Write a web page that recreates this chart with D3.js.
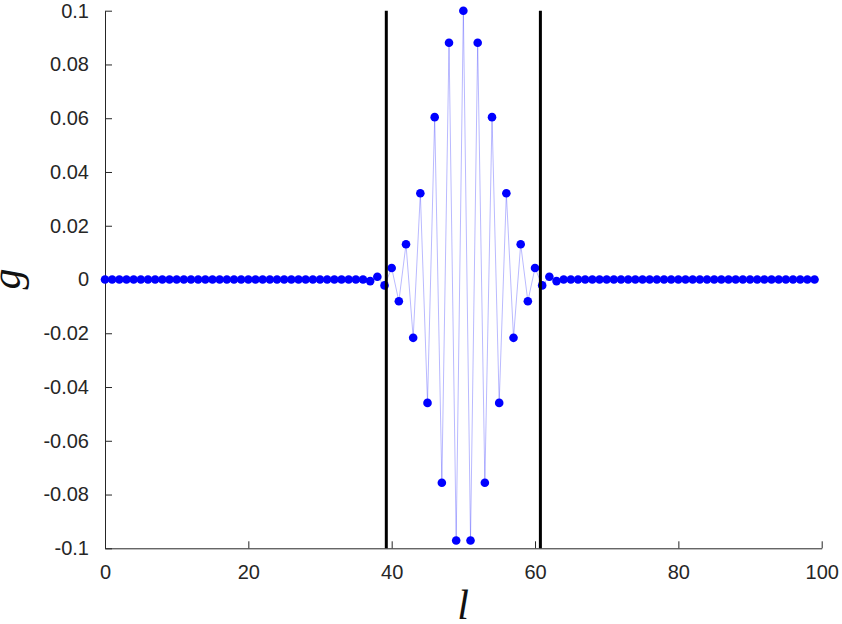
<!DOCTYPE html>
<html lang="en">
<head>
    <meta charset="utf-8">
    <script src="https://d3js.org/d3.v7.min.js"></script>
    <style>
        body { margin: 0; background: #fff; }
        .axis path, .axis line { stroke: #262626; }
        .lab { font-family: "Liberation Serif", "DejaVu Serif", serif; font-style: italic; font-size: 42px; fill: #111; }
    </style>
</head>
<body>
    <svg></svg>
    <script>
        // site index l = 0..99, value g
        const sites = d3.range(0, 100)
        const gValues = [
            0, 0, 0, 0, 0, 0, 0, 0, 0, 0,
            0, 0, 0, 0, 0, 0, 0, 0, 0, 0,
            0, 0, 0, 0, 0, 0, 0, 0, 0, 0,
            0, 0, 0, 0, 0, 0, 0, -0.0006, 0.001, -0.0022,
            0.0043, -0.0081, 0.0131, -0.0217, 0.0321, -0.0459, 0.0604, -0.0756, 0.0881, -0.0971,
            0.1, -0.0971, 0.0881, -0.0756, 0.0604, -0.0459, 0.0321, -0.0217, 0.0131, -0.0081,
            0.0043, -0.0022, 0.001, -0.0006, 0, 0, 0, 0, 0, 0,
            0, 0, 0, 0, 0, 0, 0, 0, 0, 0,
            0, 0, 0, 0, 0, 0, 0, 0, 0, 0,
            0, 0, 0, 0, 0, 0, 0, 0, 0, 0
        ]
        const bounds = [39.25, 60.75]
        const xTicks = [0, 20, 40, 60, 80, 100]
        const yTicks = [-0.1, -0.08, -0.06, -0.04, -0.02, 0, 0.02, 0.04, 0.06, 0.08, 0.1]

        const W = 842, H = 624
        const mLeft = 105, mRight = 821.7, mTop = 10.7, mBottom = 548.3

        const svg = d3.select('svg')
            .attr('width', W)
            .attr('height', H)

        const x = d3.scaleLinear().domain([0, 100]).range([mLeft, mRight])
        const y = d3.scaleLinear().domain([-0.1, 0.1]).range([mBottom, mTop])

        const data = sites.map((l, i) => ({ l: l, g: gValues[i] }))

        const styleAxis = g => g
            .attr('font-family', '"Liberation Sans", Arial, sans-serif')
            .attr('font-size', 20)
            .call(g => g.selectAll('text').attr('fill', '#262626'))

        // axes, ticks pointing inward
        svg.append('g')
            .attr('class', 'axis')
            .attr('transform', `translate(0,${mBottom})`)
            .call(d3.axisBottom(x).tickValues(xTicks).tickSizeInner(-7).tickSizeOuter(0).tickPadding(17).tickFormat(d3.format('d')))
            .call(styleAxis)

        svg.append('g')
            .attr('class', 'axis')
            .attr('transform', `translate(${mLeft},0)`)
            .call(d3.axisLeft(y).tickValues(yTicks).tickSizeInner(-7).tickSizeOuter(0).tickPadding(16)
                .tickFormat(d => d === 0 ? '0' : d3.format('.2~f')(d).replace('−', '-')))
            .call(styleAxis)

        // connecting line
        svg.append('path')
            .datum(data)
            .attr('fill', 'none')
            .attr('stroke', '#0000ff')
            .attr('stroke-opacity', 0.35)
            .attr('stroke-width', 0.8)
            .attr('d', d3.line().x(d => x(d.l)).y(d => y(d.g)))

        svg.append('g')
            .selectAll('circle')
            .data(data)
            .enter()
            .append('circle')
            .attr('cx', d => x(d.l))
            .attr('cy', d => y(d.g))
            .attr('r', 4.3)
            .attr('fill', '#0000ff')

        // boundary lines
        svg.append('g')
            .selectAll('line')
            .data(bounds)
            .enter()
            .append('line')
            .attr('x1', d => x(d))
            .attr('x2', d => x(d))
            .attr('y1', y(0.1))
            .attr('y2', y(-0.1))
            .attr('stroke', '#000')
            .attr('stroke-width', 3)

        svg.append('text')
            .attr('class', 'lab')
            .attr('x', 463)
            .attr('y', 619)
            .attr('text-anchor', 'middle')
            .text('l')

        svg.append('text')
            .attr('class', 'lab')
            .attr('transform', 'translate(20,279) rotate(-90)')
            .attr('text-anchor', 'middle')
            .text('g')
    </script>
</body>
</html>
